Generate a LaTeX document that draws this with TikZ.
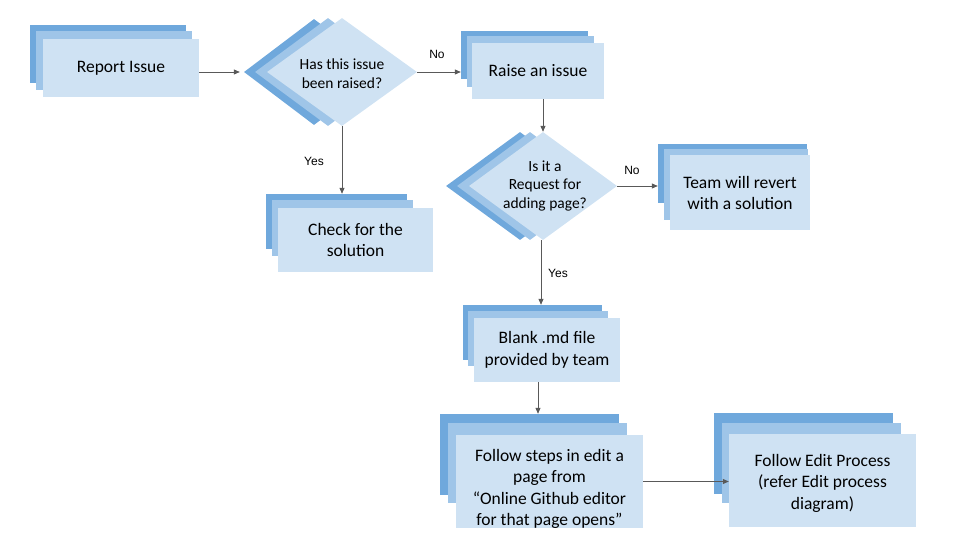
\documentclass[tikz,border=0pt]{standalone}
\usepackage{fontspec}
\setmainfont{Carlito}
\newfontfamily\labelfont{Liberation Sans}
\usetikzlibrary{shapes.geometric,arrows.meta}
\definecolor{bluedark}{HTML}{6FA8DC}
\definecolor{bluemid}{HTML}{9FC5E8}
\definecolor{bluelight}{HTML}{CFE2F3}
\definecolor{arrowgray}{HTML}{595959}

\begin{document}
\begin{tikzpicture}[x=1pt, y=-1pt,
    wh/.style 2 args={minimum width=#1pt, minimum height=#2pt},
    backbox/.style={rectangle, fill=bluedark, inner sep=0},
    midbox/.style={rectangle, fill=bluemid, inner sep=0},
    boxtext/.style={align=center, inner sep=0, font=\fontsize{17.5}{21.5}\selectfont},
    box/.style={rectangle, fill=bluelight, boxtext},
    dia/.style={diamond, inner sep=0},
    diatext/.style={align=center, font=\fontsize{15.5}{19}\selectfont},
    lbl/.style={font=\labelfont\fontsize{12}{14}\selectfont},
    ptr/.style={-{Triangle[length=6pt, width=5pt]}, draw=arrowgray, line width=0.8pt}
]
    \useasboundingbox (0,0) rectangle (954,556);

    % Report Issue
    \node[backbox, wh={156}{58}] (reportc) at (108,54) {};
    \node[midbox, wh={156}{59}] (reportb) at (114,60.5) {};
    \node[box, wh={156}{58}] (report) at (121,68) {Report Issue};

    % Has this issue been raised?
    \node[dia, fill=bluedark, wh={140}{106}] (raisedc) at (314,72) {};
    \node[dia, fill=bluemid, wh={146}{108}] (raisedb) at (328,72) {};
    \node[dia, fill=bluelight, wh={150}{108}] (raised) at (342,72) {};
    \node[diatext] (raisedt) at (342,74) {Has this issue\\been raised?};

    % Raise an issue
    \node[backbox, wh={127}{48}] (raisec) at (524.5,55) {};
    \node[midbox, wh={127}{51}] (raiseb) at (530.5,61.5) {};
    \node[box, wh={132}{56}] (raise) at (538,71) {Raise an issue};

    % Check for the solution
    \node[backbox, wh={141}{55}] (checkc) at (336.5,221.5) {};
    \node[midbox, wh={141}{56}] (checkb) at (342.5,228) {};
    \node[box, wh={155}{64}] (check) at (355.5,240) {Check for the\\solution};

    % Is it a Request for adding page?
    \node[dia, fill=bluedark, wh={148}{108}] (requestc) at (520,186) {};
    \node[dia, fill=bluemid, wh={146}{108}] (requestb) at (530,186) {};
    \node[dia, fill=bluelight, wh={148}{108}] (request) at (543,186) {};
    \node[diatext, font=\fontsize{15.5}{18.5}\selectfont] (requestt) at (545,186) {Is it a\\Request for\\adding page?};

    % Team will revert
    \node[backbox, wh={149}{59}] (teamc) at (732.5,173.5) {};
    \node[midbox, wh={144}{71}] (teamb) at (736,184.5) {};
    \node[box, wh={140}{75}] (team) at (740,193) {Team will revert\\with a solution};

    % Blank .md file
    \node[backbox, wh={139}{55}] (blankc) at (532.5,332.5) {};
    \node[midbox, wh={140}{55}] (blankb) at (538,338.5) {};
    \node[box, wh={146}{64}] (blank) at (547,350) {Blank .md file\\provided by team};

    % Follow steps
    \node[backbox, wh={179}{81}] (stepsc) at (529.5,454.5) {};
    \node[midbox, wh={179}{80}] (stepsb) at (537.5,463) {};
    \node[box, wh={187}{93}] (steps) at (549.5,481.5) {};
    \node[boxtext] (stepst) at (549.5,489) {Follow steps in edit a\\page from\\``Online Github editor\\for that page opens''};

    % Follow Edit Process
    \node[backbox, wh={179}{81}] (editc) at (803.5,453.5) {};
    \node[midbox, wh={179}{80}] (editb) at (811.5,463) {};
    \node[box, wh={187}{93}] (edit) at (822.5,480.5) {};
    \node[boxtext] (editt) at (822.5,483) {Follow Edit Process\\(refer Edit process\\diagram)};

    % labels
    \node[lbl] (nol1) at (437,54) {No};
    \node[lbl] (yesl1) at (314,161) {Yes};
    \node[lbl] (nol2) at (632,170) {No};
    \node[lbl] (yesl2) at (558,273) {Yes};

    % arrows
    \draw[ptr] (report.east |- raisedc.west) -- ([xshift=-4pt]raisedc.west);
    \draw[ptr] (raised.east) -- (raised.east -| raisec.west);
    \draw[ptr] (raised.south) -- (raised.south |- checkc.north);
    \draw[ptr] (raise.south -| request.north) -- (request.north);
    \draw[ptr] (request.east) -- (request.east -| teamc.west);
    \draw[ptr] ([xshift=-2pt]request.south) -- ([xshift=-2pt]request.south |- blankc.north);
    \draw[ptr] ([xshift=-9pt]blank.south) -- ([xshift=-9pt]blank.south |- stepsc.north);
    \draw[ptr] (steps.east) -- (steps.east -| edit.west);
\end{tikzpicture}
\end{document}
